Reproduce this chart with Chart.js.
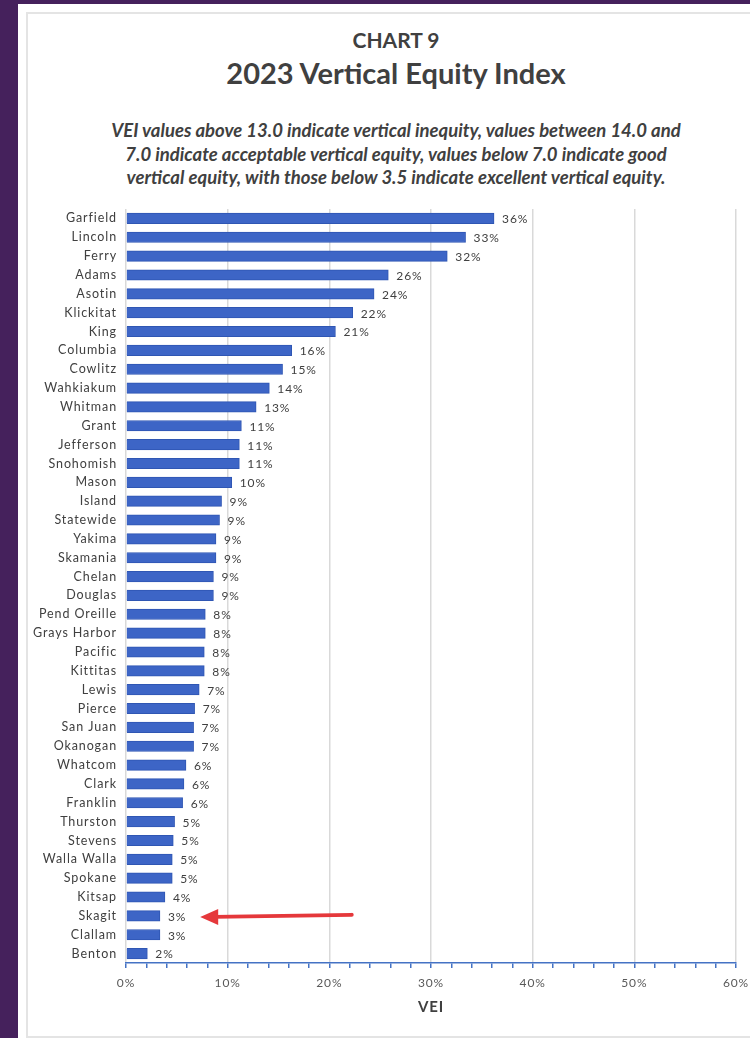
<!DOCTYPE html>
<html>
<head>
<meta charset="utf-8">
<script src="https://cdn.jsdelivr.net/npm/chart.js@4/dist/chart.umd.min.js"></script>
<style>
  body { margin: 0; background: #45215c; overflow: hidden; width: 750px; height: 1038px; position: relative; }
  .page { position: absolute; left: 18px; top: 4px; width: 800px; height: 1100px; background: #fff; }
  .card { position: absolute; left: 8px; top: 8px; width: 780px; height: 1022px; border: 2px solid #e4e4e4; background: #fff; }
  .head { position: absolute; left: 0; width: 736px; text-align: center; color: #404040; font-family: Lato, "Open Sans", sans-serif; }
  #t1 { top: 13px; line-height: 26px; font-size: 21px; font-weight: bold; }
  #t2 { top: 41px; line-height: 36px; font-size: 29px; font-weight: bold; }
  #t3 { top: 105px; line-height: 23.5px; font-size: 18.5px; font-weight: bold; font-style: italic; }
  .wrap { position: absolute; left: 0; top: 181px; width: 736px; height: 835px; }
</style>
</head>
<body>
<div class="page">
  <div class="card">
    <div class="head" id="t1">CHART 9</div>
    <div class="head" id="t2">2023 Vertical Equity Index</div>
    <div class="head" id="t3">VEI values above 13.0 indicate vertical inequity, values between 14.0 and<br>7.0 indicate acceptable vertical equity, values below 7.0 indicate good<br>vertical equity, with those below 3.5 indicate excellent vertical equity.</div>
    <div class="wrap"><canvas id="veiChart" width="736" height="835"></canvas></div>
  </div>
</div>
<script>
// comtatele si valorile VEI (%)
const counties = ['Garfield', 'Lincoln', 'Ferry', 'Adams', 'Asotin', 'Klickitat', 'King', 'Columbia', 'Cowlitz', 'Wahkiakum',
  'Whitman', 'Grant', 'Jefferson', 'Snohomish', 'Mason', 'Island', 'Statewide', 'Yakima', 'Skamania', 'Chelan',
  'Douglas', 'Pend Oreille', 'Grays Harbor', 'Pacific', 'Kittitas', 'Lewis', 'Pierce', 'San Juan', 'Okanogan', 'Whatcom',
  'Clark', 'Franklin', 'Thurston', 'Stevens', 'Walla Walla', 'Spokane', 'Kitsap', 'Skagit', 'Clallam', 'Benton'];
const veiValues = [36.2, 33.4, 31.6, 25.8, 24.4, 22.3, 20.6, 16.3, 15.4, 14.1,
  12.8, 11.35, 11.15, 11.15, 10.4, 9.4, 9.2, 8.85, 8.85, 8.6,
  8.6, 7.8, 7.8, 7.7, 7.7, 7.2, 6.75, 6.65, 6.65, 5.9,
  5.7, 5.57, 4.78, 4.65, 4.55, 4.55, 3.83, 3.34, 3.34, 2.1];
const xTicks = [0, 10, 20, 30, 40, 50, 60];
const highlighted = 'Skagit';

// spatiere intre litere, ca in Excel
const spacing = {
  id: 'spacing',
  beforeDraw(chart) { chart.ctx.letterSpacing = '0.9px'; },
  afterDraw(chart) { chart.ctx.letterSpacing = '0px'; }
};

// etichete cu valoarea la capatul barelor + sageata rosie
const barLabels = {
  id: 'barLabels',
  afterDatasetsDraw(chart) {
    const ctx = chart.ctx;
    const meta = chart.getDatasetMeta(0);
    ctx.save();
    ctx.font = '12px Lato, sans-serif';
    ctx.fillStyle = '#404040';
    ctx.textBaseline = 'middle';
    meta.data.forEach((bar, i) => {
      ctx.fillText(Math.round(veiValues[i]) + '%', bar.x + 8, bar.y + 1);
    });
    // sageata spre Skagit
    const idx = counties.indexOf(highlighted);
    const b = meta.data[idx];
    const xs = chart.scales.x;
    const tipX = xs.getPixelForValue(7.3), tailX = xs.getPixelForValue(22.2);
    const y = b.y + 1;
    ctx.strokeStyle = '#e5383b';
    ctx.fillStyle = '#e5383b';
    ctx.lineWidth = 4;
    ctx.lineCap = 'round';
    ctx.beginPath();
    ctx.moveTo(tailX, y - 2);
    ctx.lineTo(tipX + 14, y);
    ctx.stroke();
    ctx.beginPath();
    ctx.moveTo(tipX, y);
    ctx.lineTo(tipX + 18, y - 8);
    ctx.lineTo(tipX + 18, y + 8);
    ctx.closePath();
    ctx.fill();
    ctx.restore();
  }
};

const ctxVei = document.getElementById('veiChart').getContext('2d');
new Chart(ctxVei, {
  type: 'bar',
  data: {
    labels: counties,
    datasets: [{
      label: 'VEI',
      data: veiValues,
      backgroundColor: '#3d65c6',
      borderColor: '#2f56b3',
      borderWidth: 1,
      barThickness: 10.5
    }]
  },
  options: {
    indexAxis: 'y',
    responsive: false,
    animation: false,
    layout: { padding: { top: 14, right: 28, left: 0, bottom: 0 } },
    plugins: { legend: { display: false }, tooltip: { enabled: false } },
    scales: {
      y: {
        afterFit(scale) { scale.width = 98; },
        grid: { display: false },
        border: { display: false },
        ticks: {
          autoSkip: false,
          padding: 1,
          color: '#404040',
          font: { family: 'Lato, sans-serif', size: 12.5 }
        }
      },
      x: {
        min: 0,
        max: 60,
        afterFit(scale) { scale.height = 67; },
        grid: {
          color: c => (c.tick && c.tick.value % 10 === 0) ? '#d9d9d9' : 'rgba(0,0,0,0)',
          lineWidth: 1.5,
          tickColor: '#4472c4',
          tickLength: 5,
          drawTicks: true
        },
        border: { display: true, color: '#4472c4', width: 1.5 },
        ticks: {
          stepSize: 2,
          autoSkip: false,
          maxRotation: 0,
          padding: 8,
          color: '#595959',
          font: { family: 'Lato, sans-serif', size: 12 },
          callback: v => xTicks.includes(v) ? v + '%' : ''
        },
        title: {
          display: true,
          text: 'VEI',
          color: '#404040',
          font: { family: 'Lato, sans-serif', size: 15, weight: 'bold' },
          padding: { top: 6, bottom: 14 }
        }
      }
    }
  },
  plugins: [spacing, barLabels]
});
</script>
</body>
</html>
